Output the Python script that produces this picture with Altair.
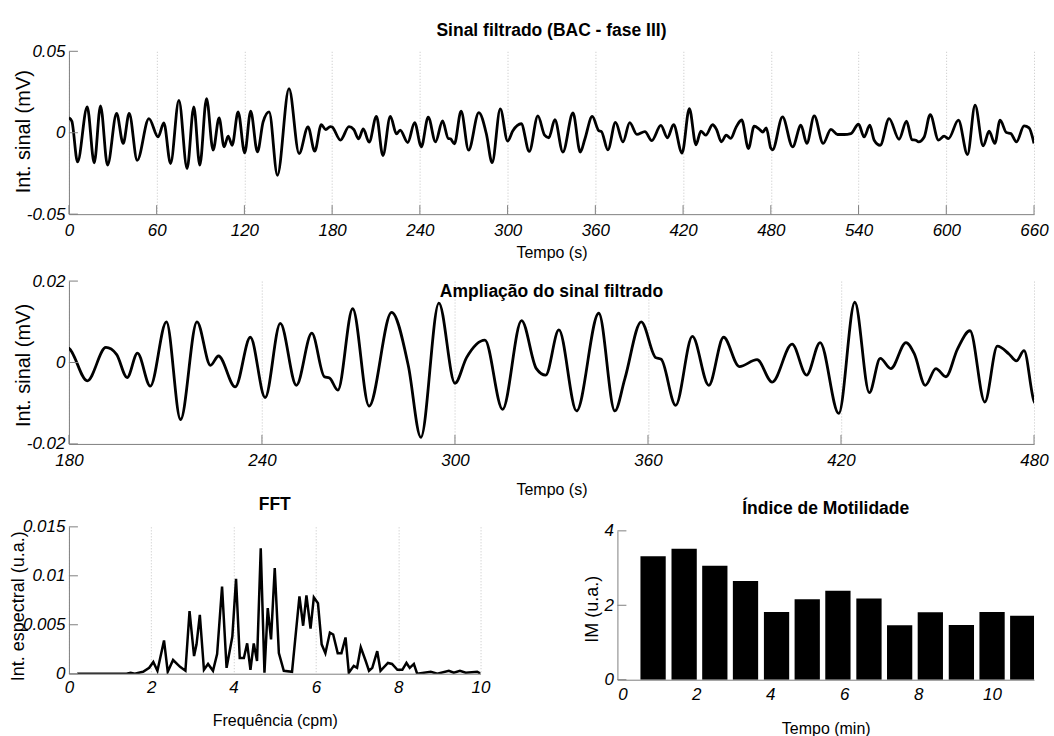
import altair as alt
import pandas as pd

FONT = "Liberation Sans"

# ---------------- data ----------------
sig_t = [0, 2, 5.9, 12.5, 17.3, 21.6, 26.4, 32.6, 37.1, 41.2, 46.7, 54.7, 61.0, 64.9, 69.5, 75.2,
         80.8, 85.4, 89.5, 94.1, 98.6, 102.7, 106.1, 108.9, 111.6, 115.7, 120.2, 124.3, 128.9,
         132.8, 136.9, 142.6, 150.5, 157.4, 163.5, 168.1, 172.6, 175.6, 178.8,
         180, 185.7, 191.5, 194.8, 198.1, 201.3, 205.3, 210.3, 214.7, 219.8, 224.0, 226.5, 231.7,
         236.4, 241.0, 245.7, 250.7, 255.5, 259.4, 261.0, 263.6, 268.2, 273.3, 280.3, 285.5,
         289.4, 295.0, 300.0, 303.6, 309.3, 314.8, 320.7, 325.3, 328.2, 332.3, 337.8, 344.7,
         349.7, 352.8, 357.9, 362.4, 364.1, 368.6, 373.8, 378.9, 383.5, 388.4, 393.9, 398.6,
         404.8, 409.3, 413.5, 419.3, 424.3, 428.8, 432.2, 435.5, 440.2, 442.8, 446.2, 449.5,
         452.6, 456.2, 460.1, 464.7, 468.6, 472.2, 474.5, 476.9, 480,
         481.2, 488.0, 494.9, 500.6, 504.6, 509.7, 515.8, 521.1, 525.6, 530.2, 534.7, 540.0,
         543.8, 547.7, 550.7, 554.8, 560.9, 567.7, 572.8, 576.5, 579.2, 581.0, 584.9, 589.0,
         594.7, 598.5, 601.5, 608.3, 614.5, 619.7, 625.2, 629.3, 633.2, 636.8, 641.1, 644.1,
         648.0, 653.2, 656.6, 660]
sig_v = [0.0092, 0.0070, -0.0179, 0.0158, -0.0185, 0.0165, -0.0199, 0.0118, -0.0066, 0.0118,
         -0.0169, 0.0087, -0.0026, 0.0060, -0.0189, 0.0199, -0.0220, 0.0158, -0.0199, 0.0210,
         -0.0107, 0.0091, -0.0087, -0.0021, -0.0077, 0.0128, -0.0124, 0.0132, -0.0118, 0.0066,
         0.0128, -0.0261, 0.0271, -0.0128, 0.0036, -0.0113, 0.0050, 0.0019, 0.0038,
         0.0035, -0.0045, 0.0037, 0.0020, -0.0037, 0.0023, -0.0058, 0.0100, -0.0140, 0.0100,
         -0.0007, 0.0016, -0.0060, 0.0062, -0.0086, 0.0096, -0.0056, 0.0072, -0.0035, -0.0038,
         -0.0068, 0.0132, -0.0107, 0.0123, -0.0008, -0.0184, 0.0146, -0.0051, 0.0012, 0.0055,
         -0.0115, 0.0103, -0.0015, -0.0031, 0.0080, -0.0119, 0.0121, -0.0119, -0.0040, 0.0100,
         0.0012, 0.0008, -0.0105, 0.0064, -0.0056, 0.0062, -0.0010, 0.0007, -0.0048, 0.0045,
         -0.0031, 0.0049, -0.0125, 0.0148, -0.0074, 0.0010, -0.0015, 0.0049, 0.0021, -0.0056,
         -0.0015, -0.0035, 0.0033, 0.0078, -0.0097, 0.0040, 0.0021, 0.0004, 0.0029, -0.0095,
         -0.0105, 0.0097, -0.0087, 0.0046, -0.0066, 0.0103, -0.0066, 0.0021, -0.0011, -0.0011,
         -0.0005, 0.0052, -0.0026, 0.0046, -0.0046, -0.0077, 0.0087, -0.0040, 0.0071, -0.0042,
         -0.0046, -0.0056, -0.0026, 0.0111, -0.0046, -0.0021, -0.0036, 0.0077, -0.0134, 0.0169,
         -0.0081, 0.0009, -0.0066, 0.0077, 0.0001, -0.0005, -0.0056, 0.0042, 0.0030, -0.0066]

fft_f = [0.2, 1.4, 1.5, 1.6, 1.8, 1.95, 2.05, 2.15, 2.31, 2.4, 2.53, 2.7, 2.83, 2.93, 3.04,
         3.1, 3.18, 3.28, 3.38, 3.5, 3.6, 3.72, 3.83, 3.97, 4.06, 4.15, 4.25, 4.33, 4.41,
         4.49, 4.57, 4.66, 4.75, 4.83, 4.91, 5.0, 5.1, 5.22, 5.42, 5.6, 5.69, 5.77, 5.87,
         5.95, 6.05, 6.14, 6.23, 6.34, 6.42, 6.53, 6.62, 6.72, 6.8, 6.92, 7.0, 7.09, 7.21,
         7.29, 7.37, 7.49, 7.57, 7.75, 7.85, 7.98, 8.1, 8.2, 8.28, 8.38, 8.46, 8.79, 8.95,
         9.23, 9.35, 9.5, 9.64, 9.92, 10.0]
fft_v = [0.0, 0.0, 0.0001, 0.0, 0.0002, 0.0006, 0.0012, 0.0003, 0.0034, 0.0002, 0.0014,
         0.0007, 0.0003, 0.0064, 0.0018, 0.0030, 0.0060, 0.0004, 0.0010, 0.0003, 0.0020,
         0.0089, 0.0006, 0.0038, 0.0097, 0.0016, 0.0016, 0.0031, 0.0004, 0.0031, 0.0013,
         0.0128, 0.0001, 0.0067, 0.0035, 0.0108, 0.0021, 0.0003, 0.0002, 0.0079, 0.0049,
         0.0080, 0.0046, 0.0078, 0.0072, 0.0030, 0.0021, 0.0042, 0.0040, 0.0021, 0.0021,
         0.0037, 0.0001, 0.0008, 0.0006, 0.0027, 0.0013, 0.0003, 0.0006, 0.0023, 0.0003,
         0.0011, 0.0010, 0.0004, 0.0004, 0.0011, 0.0006, 0.0010, 0.0, 0.0002, 0.0, 0.0003,
         0.0001, 0.0003, 0.0001, 0.0002, 0.0]

im_t = [0.83, 1.67, 2.5, 3.33, 4.17, 5.0, 5.83, 6.67, 7.5, 8.33, 9.17, 10.0, 10.83]
im_v = [3.32, 3.52, 3.06, 2.65, 1.82, 2.16, 2.39, 2.18, 1.46, 1.81, 1.47, 1.82, 1.72]

top_xticks = [0, 60, 120, 180, 240, 300, 360, 420, 480, 540, 600, 660]
top_yticks = [-0.05, 0, 0.05]
mid_xticks = [180, 240, 300, 360, 420, 480]
mid_yticks = [-0.02, 0, 0.02]
fft_xticks = [0, 2, 4, 6, 8, 10]
fft_yticks = [0, 0.005, 0.01, 0.015]
im_xticks = [0, 2, 4, 6, 8, 10]
im_yticks = [0, 2, 4]

AX = "#808080"
sig = pd.DataFrame({"t": sig_t, "v": sig_v})
fft = pd.DataFrame({"f": fft_f, "p": fft_v})
im = pd.DataFrame({"m": im_t, "im": im_v})


def xaxis(values, title, lpad, tpad, grid=True):
    return alt.Axis(values=values, title=title, grid=grid, gridDash=[1, 2], gridColor="#c4c4c4",
                    gridWidth=1, ticks=False, labelPadding=lpad, titlePadding=tpad,
                    labelFont=FONT, labelFontSize=17, labelFontStyle="italic", labelColor="black",
                    titleFont=FONT, titleFontSize=16, titleFontWeight="normal", titleColor="black",
                    domainColor=AX, labelExpr="'' + datum.value", labelFlush=False,
                    labelOverlap=False)


def yaxis(values, title, tx, ty, fs=18):
    return alt.Axis(values=values, title=title, grid=False, ticks=False, labelPadding=4,
                    labelFont=FONT, labelFontSize=17, labelFontStyle="italic", labelColor="black",
                    titleFont=FONT, titleFontSize=fs, titleFontWeight="normal", titleColor="black",
                    titleX=tx, titleY=ty, domainColor=AX, labelExpr="'' + datum.value",
                    labelOverlap=False)


def ticks_x(values, field, scale, axis, h):
    return alt.Chart(pd.DataFrame({field: values})).mark_rule(color=AX, strokeWidth=1).encode(
        x=alt.X(f"{field}:Q", scale=scale, axis=axis), y=alt.value(h), y2=alt.value(h - 9))


def ticks_y(values, field, scale, axis):
    return alt.Chart(pd.DataFrame({field: values})).mark_rule(color=AX, strokeWidth=1).encode(
        y=alt.Y(f"{field}:Q", scale=scale, axis=axis), x=alt.value(0), x2=alt.value(9))


def ttl(text, offset):
    return alt.Title(text, font=FONT, fontSize=17.5, fontWeight="bold", color="black",
                     anchor="middle", offset=offset)


# ---------------- top panel ----------------
W1, H1 = 966, 163
xs1 = alt.Scale(domain=[0, 660], nice=False, zero=False)
ys1 = alt.Scale(domain=[-0.05, 0.05], nice=False, zero=False)
xa1 = xaxis(top_xticks, "Tempo (s)", 8, 6)
ya1 = yaxis(top_yticks, "Int. sinal (mV)", -35, 80, fs=20)
top = alt.layer(
    alt.Chart(sig).mark_line(color="black", strokeWidth=2.8, interpolate="monotone", clip=True).encode(
        x=alt.X("t:Q", scale=xs1, axis=xa1), y=alt.Y("v:Q", scale=ys1, axis=ya1)),
    ticks_x(top_xticks, "t", xs1, xa1, H1),
    ticks_y(top_yticks, "v", ys1, ya1),
).properties(width=W1, height=H1, title=ttl("Sinal filtrado (BAC - fase III)", 3))

# ---------------- middle panel ----------------
xs2 = alt.Scale(domain=[180, 480], nice=False, zero=False)
ys2 = alt.Scale(domain=[-0.02, 0.02], nice=False, zero=False)
xa2 = xaxis(mid_xticks, "Tempo (s)", 9, 13)
ya2 = yaxis(mid_yticks, "Int. sinal (mV)", -35, 84, fs=20)
mid = alt.layer(
    alt.Chart(sig).mark_line(color="black", strokeWidth=2.8, interpolate="monotone", clip=True).encode(
        x=alt.X("t:Q", scale=xs2, axis=xa2), y=alt.Y("v:Q", scale=ys2, axis=ya2)),
    ticks_x(mid_xticks, "t", xs2, xa2, H1),
    ticks_y(mid_yticks, "v", ys2, ya2),
).properties(width=W1, height=H1, title=ttl("Ampliação do sinal filtrado", -28))

# ---------------- FFT panel ----------------
W3, H3 = 412, 147
xs3 = alt.Scale(domain=[0, 10], nice=False, zero=False)
ys3 = alt.Scale(domain=[0, 0.015], nice=False, zero=False)
xa3 = xaxis(fft_xticks, "Frequência (cpm)", 6, 17)
ya3 = yaxis(fft_yticks, "Int. espectral (u.a.)", -41, 79)
fftc = alt.layer(
    alt.Chart(fft).mark_line(color="black", strokeWidth=2.5, clip=True).encode(
        x=alt.X("f:Q", scale=xs3, axis=xa3), y=alt.Y("p:Q", scale=ys3, axis=ya3)),
    ticks_y(fft_yticks, "p", ys3, ya3),
).properties(width=W3, height=H3, title=ttl("FFT", 4.5))

# ---------------- motility index panel ----------------
W4, H4 = 417, 153
xs4 = alt.Scale(domain=[0, 11], nice=False, zero=False)
ys4 = alt.Scale(domain=[0, 4], range=[H4, 4], nice=False, zero=False)
xa4 = xaxis(im_xticks, "Tempo (min)", 7, 18, grid=False)
ya4 = yaxis(im_yticks, "IM (u.a.)", -16, 82)
imc = alt.layer(
    alt.Chart(im).mark_bar(color="black", size=25.3, clip=True).encode(
        x=alt.X("m:Q", scale=xs4, axis=xa4), y=alt.Y("im:Q", scale=ys4, axis=ya4)),
    ticks_y(im_yticks, "im", ys4, ya4),
).properties(width=W4, height=H4, title=ttl("Índice de Motilidade", 4.5))

bottom = alt.hconcat(fftc, imc, spacing=93)
upper = alt.vconcat(top, mid, spacing=12)
chart = alt.vconcat(upper, bottom, spacing=-2).properties(
    padding={"left": 9, "top": 21, "right": 5, "bottom": 0}
).configure(background="white", view=alt.ViewConfig(stroke=None))

chart.save("out.html", embed_options={"renderer": "svg", "actions": False})
